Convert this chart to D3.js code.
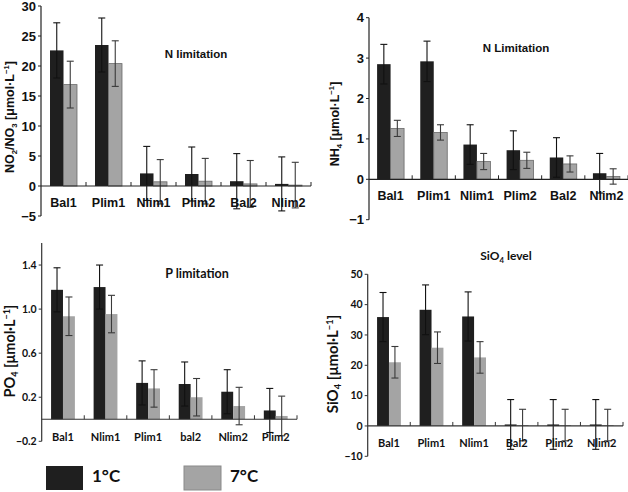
<!DOCTYPE html>
<html><head><meta charset="utf-8">
<script src="https://cdn.jsdelivr.net/npm/d3@7"></script>
<style>body{margin:0;background:#fff}svg{display:block}</style>
</head><body>
<svg id="c" width="628" height="492"></svg>
<script>
// ---- data ----
const series = ["1°C", "7°C"];

const no3Cats = ["Bal1", "Plim1", "Nlim1", "Plim2", "Bal2", "Nlim2"];
const no3Cold = [22.6, 23.5, 2.1, 2.0, 0.8, 0.35];
const no3ColdErr = [4.6, 4.5, 4.5, 4.5, 4.6, 4.5];
const no3Warm = [16.9, 20.4, 0.7, 0.8, 0.35, 0.15];
const no3WarmErr = [3.9, 3.8, 3.7, 3.8, 3.9, 3.8];
const no3Ticks = [-5, 0, 5, 10, 15, 20, 25, 30];

const nh4Cats = ["Bal1", "Plim1", "Nlim1", "Plim2", "Bal2", "Nlim2"];
const nh4Cold = [2.85, 2.92, 0.86, 0.72, 0.54, 0.15];
const nh4ColdErr = [0.49, 0.5, 0.49, 0.48, 0.49, 0.49];
const nh4Warm = [1.26, 1.16, 0.44, 0.47, 0.38, 0.07];
const nh4WarmErr = [0.2, 0.19, 0.2, 0.2, 0.2, 0.19];
const nh4Ticks = [-1, 0, 1, 2, 3, 4];

const po4Cats = ["Bal1", "Nlim1", "Plim1", "bal2", "Nlim2", "Plim2"];
const po4Cold = [1.175, 1.2, 0.33, 0.32, 0.25, 0.08];
const po4ColdErr = [0.2, 0.2, 0.2, 0.2, 0.2, 0.2];
const po4Warm = [0.935, 0.955, 0.28, 0.2, 0.12, 0.03];
const po4WarmErr = [0.175, 0.17, 0.17, 0.17, 0.17, 0.18];
const po4Ticks = [-0.2, 0.2, 0.6, 1.0, 1.4];

const sio4Cats = ["Bal1", "Plim1", "Nlim1", "Bal2", "Plim2", "Nlim2"];
const sio4Cold = [35.9, 38.3, 36.1, 0.5, 0.5, 0.5];
const sio4ColdErr = [8.1, 8.2, 8.1, 8.2, 8.2, 8.2];
const sio4Warm = [21.0, 25.8, 22.6, 0.3, 0.3, 0.3];
const sio4WarmErr = [5.2, 5.2, 5.2, 5.2, 5.2, 5.2];
const sio4Ticks = [-10, 0, 10, 20, 30, 40, 50];

const colors = ["#1f1f1f", "#a4a4a4"];
const errColors = ["#111", "#3a3a3a"];

const svg = d3.select("#c");

function panel(o) {
  const g = svg.append("g");
  const y = d3.scaleLinear().domain(o.domain).range([o.y1, o.y0]);
  const x = d3.scaleBand().domain(o.cats).range([o.x0, o.x1])
      .paddingInner(o.pad).paddingOuter(o.pad / 2);
  const xs = d3.scaleBand().domain(series).range([0, x.bandwidth()]);
  const rows = o.cats.map((c, i) => ({c, v: [o.cold[i], o.warm[i]], e: [o.coldErr[i], o.warmErr[i]]}));

  // bars
  rows.forEach(r => {
    series.forEach((s, k) => {
      const v = r.v[k];
      g.append("rect")
        .attr("x", x(r.c) + xs(s)).attr("width", xs.bandwidth())
        .attr("y", y(Math.max(0, v))).attr("height", Math.abs(y(v) - y(0)))
        .attr("fill", colors[k])
        .attr("stroke", k === 1 && o.outline ? "#6a6a6a" : "none")
        .attr("stroke-width", 0.8);
    });
  });
  // error bars
  rows.forEach(r => {
    series.forEach((s, k) => {
      const cx = x(r.c) + xs(s) + xs.bandwidth() / 2;
      const hi = y(r.v[k] + r.e[k]), lo = y(r.v[k] - r.e[k]);
      const ec = errColors[k];
      g.append("line").attr("x1", cx).attr("x2", cx).attr("y1", hi).attr("y2", lo)
        .attr("stroke", ec).attr("stroke-width", 1.1);
      [hi, lo].forEach(yy => g.append("line").attr("x1", cx - 3.5).attr("x2", cx + 3.5)
        .attr("y1", yy).attr("y2", yy).attr("stroke", ec).attr("stroke-width", 1.1));
    });
  });

  // axes
  const ax = o.axisColor;
  g.append("line").attr("x1", o.x0).attr("x2", o.x0).attr("y1", y(o.domain[1])).attr("y2", y(o.domain[0]))
    .attr("stroke", ax).attr("stroke-width", 1.2);
  g.append("line").attr("x1", o.x0).attr("x2", o.xEnd).attr("y1", y(0)).attr("y2", y(0))
    .attr("stroke", ax).attr("stroke-width", 1.2);
  // category boundary ticks (upward)
  const step = x.step();
  for (let i = 1; i <= o.cats.length; i++) {
    const tx = o.x0 + i * step;
    g.append("line").attr("x1", tx).attr("x2", tx).attr("y1", y(0)).attr("y2", y(0) - 4)
      .attr("stroke", ax).attr("stroke-width", 1);
  }
  // y ticks
  o.ticks.forEach(t => {
    g.append("line").attr("x1", o.x0 - 3).attr("x2", o.x0).attr("y1", y(t)).attr("y2", y(t))
      .attr("stroke", ax).attr("stroke-width", 1);
    g.append("text").attr("x", o.x0 - 5).attr("y", y(t)).attr("dy", "0.35em")
      .attr("text-anchor", "end").attr("font-family", o.font).attr("font-weight", "bold")
      .attr("font-size", o.tickSize).attr("fill", "#111")
      .text(o.fmt(t));
  });
  // category labels
  o.cats.forEach(c => {
    g.append("text").attr("x", x(c) + x.bandwidth() / 2).attr("y", o.labelY)
      .attr("text-anchor", "middle").attr("font-family", o.font).attr("font-weight", "bold")
      .attr("font-size", o.labelSize).attr("fill", "#111").text(c);
  });
  // title
  const tt = g.append("text").attr("x", o.titleX).attr("y", o.titleY).attr("text-anchor", "middle")
    .attr("font-family", o.font).attr("font-weight", "bold").attr("font-size", o.titleSize).attr("fill", "#111");
  o.title.forEach(p => {
    const ts = tt.append("tspan").text(p.t);
    if (p.sub) ts.attr("font-size", o.titleSize * 0.65).attr("dy", 3);
    if (p.after) ts.attr("dy", -3);
  });
  // y label
  const yl = g.append("text").attr("transform", `translate(${o.ylX},${o.ylY}) rotate(-90)`)
    .attr("text-anchor", "middle").attr("font-family", o.font).attr("font-weight", "bold")
    .attr("font-size", o.ylSize).attr("fill", "#111");
  o.ylabel.forEach(p => {
    const ts = yl.append("tspan").text(p.t);
    if (p.sub) ts.attr("font-size", o.ylSize * 0.62).attr("dy", 3);
    if (p.sup) ts.attr("font-size", o.ylSize * 0.62).attr("dy", p.dy);
    if (p.dy0 !== undefined) ts.attr("dy", p.dy0);
  });
}

const arial = "Liberation Sans, Arial, sans-serif";
const lato = "Lato, Open Sans, sans-serif";
const fmtInt = t => t < 0 ? "\u2212" + Math.abs(t) : String(t);
const fmtDec = t => t < 0 ? "\u2212" + Math.abs(t).toFixed(1) : t.toFixed(1);

panel({cats: no3Cats, cold: no3Cold, coldErr: no3ColdErr, warm: no3Warm, warmErr: no3WarmErr,
  ticks: no3Ticks, domain: [-5, 30], x0: 41, x1: 311, xEnd: 311, y0: 6, y1: 216, pad: 0.4,
  outline: true, axisColor: "#222", font: arial, tickSize: 13, labelSize: 12.5, labelY: 207,
  title: [{t: "N limitation"}], titleX: 196, titleY: 58, titleSize: 11.5, fmt: fmtInt,
  ylabel: [{t: "NO"}, {t: "2", sub: true}, {t: "/NO", dy0: -3}, {t: "3", sub: true}, {t: " [\u03bcmol\u00b7L", dy0: -3}, {t: "\u22121", sup: true, dy: -5}, {t: "]", dy0: 5}],
  ylX: 14, ylY: 117, ylSize: 12.5});

panel({cats: nh4Cats, cold: nh4Cold, coldErr: nh4ColdErr, warm: nh4Warm, warmErr: nh4WarmErr,
  ticks: nh4Ticks, domain: [-1, 4], x0: 369, x1: 628, xEnd: 628, y0: 17.7, y1: 219.7, pad: 0.375,
  outline: true, axisColor: "#222", font: arial, tickSize: 13, labelSize: 12.5, labelY: 200,
  title: [{t: "N Limitation"}], titleX: 516, titleY: 52, titleSize: 11.5, fmt: fmtInt,
  ylabel: [{t: "NH"}, {t: "4", sub: true}, {t: " [\u03bcmol\u00b7L", dy0: -3}, {t: "\u22121", sup: true, dy: -5}, {t: "]", dy0: 5}],
  ylX: 339, ylY: 124, ylSize: 12.5});

panel({cats: po4Cats, cold: po4Cold, coldErr: po4ColdErr, warm: po4Warm, warmErr: po4WarmErr,
  ticks: po4Ticks, domain: [-0.2, 1.6], x0: 41.7, x1: 297, xEnd: 297, y0: 243, y1: 441.3, pad: 0.44,
  outline: false, axisColor: "#333", font: lato, tickSize: 10.5, labelSize: 11, labelY: 441,
  title: [{t: "P limitation"}], titleX: 197, titleY: 278, titleSize: 12.5, fmt: fmtDec,
  ylabel: [{t: "PO"}, {t: "4", sub: true}, {t: " [\u03bcmol\u00b7L", dy0: -3}, {t: "\u22121", sup: true, dy: -5}, {t: "]", dy0: 5}],
  ylX: 15, ylY: 351, ylSize: 14.5});

panel({cats: sio4Cats, cold: sio4Cold, coldErr: sio4ColdErr, warm: sio4Warm, warmErr: sio4WarmErr,
  ticks: sio4Ticks, domain: [-10, 50], x0: 367.7, x1: 623, xEnd: 623, y0: 274.3, y1: 456.3, pad: 0.44,
  outline: false, axisColor: "#333", font: lato, tickSize: 10.5, labelSize: 11, labelY: 447,
  title: [{t: "SiO"}, {t: "4", sub: true}, {t: " level", after: true}], titleX: 506, titleY: 260, titleSize: 12, fmt: fmtInt,
  ylabel: [{t: "SiO"}, {t: "4", sub: true}, {t: " [\u03bcmol\u00b7L", dy0: -3}, {t: "\u22121", sup: true, dy: -5}, {t: "]", dy0: 5}],
  ylX: 338, ylY: 364, ylSize: 15});

// legend
const legX = [46, 184];
series.forEach((s, k) => {
  svg.append("rect").attr("x", legX[k]).attr("y", 466).attr("width", 37).attr("height", 24)
    .attr("fill", colors[k]).attr("stroke", k === 1 ? "#8a8a8a" : "none");
  svg.append("text").attr("x", legX[k] + 46).attr("y", 482).attr("font-family", lato)
    .attr("font-weight", "bold").attr("font-size", 17).attr("fill", "#111").text(s);
});
</script>
</body></html>
